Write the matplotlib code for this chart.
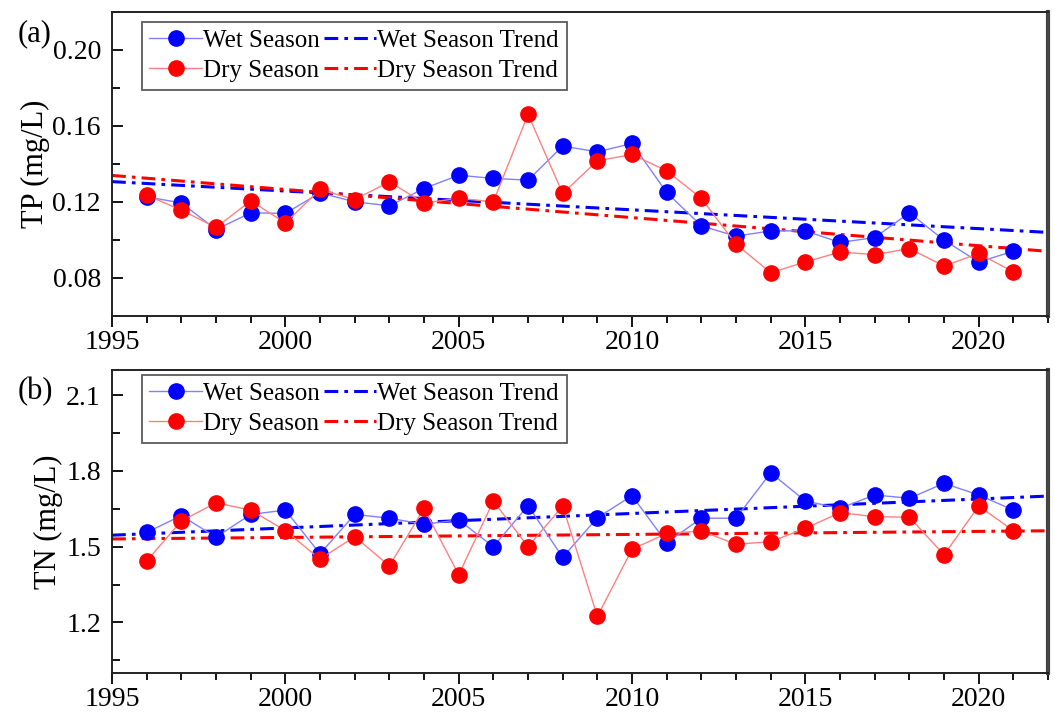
import matplotlib

matplotlib.use("Agg")
import matplotlib.pyplot as plt  # noqa: E402
import numpy as np  # noqa: E402
from matplotlib.ticker import MultipleLocator  # noqa: E402

plt.rcParams["font.family"] = ["Liberation Serif", "DejaVu Serif"]

years = np.arange(1996, 2022)

# TP (mg/L)
tp_wet = [0.1227, 0.1195, 0.1055, 0.1143, 0.1140, 0.1248, 0.1201, 0.1180, 0.1271,
          0.1341, 0.1324, 0.1315, 0.1494, 0.1464, 0.1508, 0.1250, 0.1074, 0.1020,
          0.1048, 0.1048, 0.0987, 0.1013, 0.1143, 0.0999, 0.0884, 0.0941]
tp_dry = [0.1236, 0.1157, 0.1066, 0.1206, 0.1090, 0.1266, 0.1213, 0.1306, 0.1195,
          0.1219, 0.1201, 0.1661, 0.1245, 0.1417, 0.1450, 0.1364, 0.1219, 0.0978,
          0.0828, 0.0884, 0.0937, 0.0923, 0.0955, 0.0863, 0.0929, 0.0832]

# TN (mg/L)
tn_wet = [1.557, 1.623, 1.538, 1.628, 1.645, 1.472, 1.628, 1.613, 1.589,
          1.606, 1.500, 1.663, 1.458, 1.615, 1.702, 1.516, 1.613, 1.613,
          1.793, 1.681, 1.652, 1.705, 1.692, 1.751, 1.705, 1.645]
tn_dry = [1.444, 1.602, 1.674, 1.645, 1.564, 1.451, 1.540, 1.424, 1.652,
          1.389, 1.681, 1.500, 1.661, 1.224, 1.490, 1.553, 1.562, 1.510,
          1.520, 1.573, 1.635, 1.619, 1.617, 1.468, 1.661, 1.564]

BLUE, RED = "#0000ff", "#ff0000"
TREND_DASH = (0, (4.5, 2.0, 1.2, 2.0))
XLIM = (1995, 2022)


def trend(x, y):
    k, b = np.polyfit(x, y, 1)
    xs = np.array(XLIM, dtype=float)
    return xs, k * xs + b


def panel(ax, wet, dry, ylim, major, minor, ylabel, tag, leg_y):
    for vals, col, lc, name in [(wet, BLUE, "#8080ff", "Wet Season"),
                                (dry, RED, "#ff8080", "Dry Season")]:
        ax.plot(years, vals, "-", color=lc, lw=1.0, marker="o", ms=11,
                mfc=col, mec=col, label=name, zorder=3)
    for vals, col, name in [(wet, BLUE, "Wet Season Trend"),
                            (dry, RED, "Dry Season Trend")]:
        xs, ys = trend(years, vals)
        ax.plot(xs, ys, color=col, lw=2.2, linestyle=TREND_DASH, label=name, zorder=2)
    ax.legend(ncol=2, loc="upper left",
              bbox_to_anchor=(0.032, leg_y), borderaxespad=0, fontsize=18,
              frameon=True, fancybox=False, edgecolor="#333333",
              handlelength=2.1, handletextpad=0.05, columnspacing=0.15,
              labelspacing=0.3, borderpad=0.3)
    ax.get_legend().get_frame().set_linewidth(1.3)

    ax.set_xlim(*XLIM)
    ax.set_ylim(*ylim)
    ax.xaxis.set_major_locator(MultipleLocator(5))
    ax.xaxis.set_minor_locator(MultipleLocator(1))
    ax.yaxis.set_major_locator(MultipleLocator(major))
    ax.yaxis.set_minor_locator(MultipleLocator(minor))
    ax.tick_params(axis="x", which="major", direction="out", length=8, width=1.3,
                   labelsize=20, pad=2)
    ax.tick_params(axis="x", which="minor", direction="out", length=5, width=1.3)
    ax.tick_params(axis="y", which="major", direction="in", length=8, width=1.3,
                   labelsize=20, pad=8)
    ax.tick_params(axis="y", which="minor", direction="in", length=6, width=1.3)
    for s in ["left", "bottom", "top"]:
        ax.spines[s].set_linewidth(1.4)
        ax.spines[s].set_color("#222222")
    ax.spines["right"].set_linewidth(3)
    ax.spines["right"].set_color("#444444")
    ax.set_ylabel(ylabel, fontsize=22, labelpad=2)
    ax.text(-0.101, 0.93, tag, transform=ax.transAxes, fontsize=22, ha="left", va="center")


fig = plt.figure(figsize=(10.55, 7.13), dpi=100)
ax1 = fig.add_axes([0.1062, 0.5568, 0.8872, 0.4264])
ax2 = fig.add_axes([0.1062, 0.0561, 0.8872, 0.4250])

panel(ax1, tp_wet, tp_dry, (0.06, 0.22), 0.04, 0.02, "TP (mg/L)", "(a)", 0.967)
ax1.set_yticks([0.08, 0.12, 0.16, 0.20])
ax1.set_yticklabels(["0.08", "0.12", "0.16", "0.20"])

panel(ax2, tn_wet, tn_dry, (1.0, 2.2), 0.3, 0.15, "TN (mg/L)", "(b)", 0.983)
ax2.set_yticks([1.2, 1.5, 1.8, 2.1])
ax2.set_yticklabels(["1.2", "1.5", "1.8", "2.1"])

fig.savefig("out.png", dpi=100)
